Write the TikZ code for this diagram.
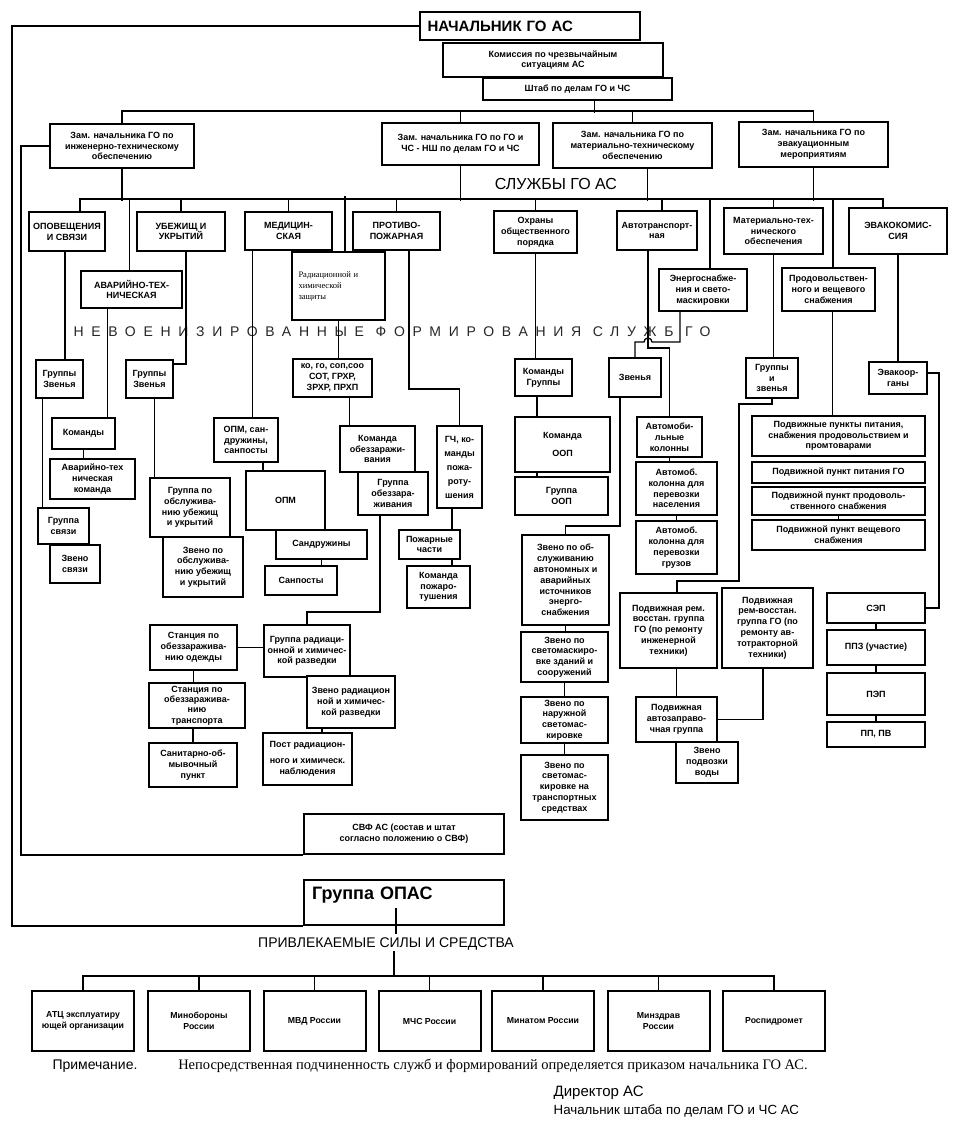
\documentclass[tikz,border=0pt]{standalone}
\usepackage{fontspec}
\usepackage{graphicx}
\setmainfont{Liberation Sans}
\newfontfamily\timesfont{Liberation Serif}

\begin{document}
\begin{tikzpicture}[x = 1pt, y = -1pt, line width = 1.3pt,
    box/.style = {rectangle, draw, line width = 2pt, fill = white, align = center, inner sep = 1pt,
                  font = \fontsize{9}{10.8}\selectfont\bfseries},
    org/.style = {box, minimum width = 102pt, minimum height = 60pt, font = \fontsize{8.7}{11}\selectfont\bfseries},
    heading/.style = {inner sep = 0pt, font = \fontsize{14}{16}\selectfont}]
  \useasboundingbox (0, 0) rectangle (957, 1128);
  \fill [white] (0, 0) rectangle (957, 1128);

  % top of the chart
  \node [box, minimum width = 220pt, minimum height = 28pt, text width = 205pt, align = left,
         font = \fontsize{15}{17}\selectfont\bfseries] (nach) at (530, 26) {НАЧАЛЬНИК ГО  АС};
  \node [box, minimum width = 220pt, minimum height = 34pt] (kom) at (553, 60) {Комиссия по чрезвычайным\\ситуациям АС};
  \node [box, minimum width = 189pt, minimum height = 22pt] (shtab) at (577.5, 89) {Штаб по делам ГО и ЧС};
  \node [box, minimum width = 144pt, minimum height = 44pt] (zam1) at (122, 146) {Зам. начальника ГО по\\инженерно-техническому\\обеспечению};
  \node [box, minimum width = 157pt, minimum height = 42pt] (zam2) at (460.5, 144) {Зам. начальника ГО по ГО и\\ЧС - НШ по делам ГО и ЧС};
  \node [box, minimum width = 159pt, minimum height = 45pt] (zam3) at (632.5, 145.5) {Зам. начальника ГО по\\материально-техническому\\обеспечению};
  \node [box, minimum width = 149pt, minimum height = 45pt] (zam4) at (813.5, 144.5) {Зам. начальника ГО по\\эвакуационным\\мероприятиям};
  \node [heading, font = \fontsize{16}{18}\selectfont] (sluzhby) at (556, 184) {СЛУЖБЫ ГО АС};

  % services
  \node [box, minimum width = 76pt, minimum height = 39pt] (opov) at (67, 231.5) {ОПОВЕЩЕНИЯ\\И СВЯЗИ};
  \node [box, minimum width = 88pt, minimum height = 39pt] (ubez) at (181, 231.5) {УБЕЖИЩ И\\УКРЫТИЙ};
  \node [box, minimum width = 87pt, minimum height = 38pt] (med) at (288.5, 231) {МЕДИЦИН-\\СКАЯ};
  \node [box, minimum width = 87pt, minimum height = 38pt] (prot) at (396.5, 231) {ПРОТИВО-\\ПОЖАРНАЯ};
  \node [box, minimum width = 83pt, minimum height = 42pt] (ohr) at (535.5, 232) {Охраны\\общественного\\порядка};
  \node [box, minimum width = 80pt, minimum height = 39pt] (avto) at (657, 230.5) {Автотранспорт-\\ная};
  \node [box, minimum width = 99pt, minimum height = 46pt] (mtech) at (773.5, 231) {Материально-тех-\\нического\\обеспечения};
  \node [box, minimum width = 98pt, minimum height = 46pt] (evak) at (898, 231) {ЭВАКОКОМИС-\\СИЯ};
  \node [box, minimum width = 93pt, minimum height = 68pt, line width = 2.5pt, text width = 80pt, align = left,
         font = \fontsize{8.5}{11}\timesfont] (rhz) at (338.5, 286) {Радиационной и\\химической\\защиты};
  \node [box, minimum width = 101pt, minimum height = 37pt] (avar) at (131.5, 289.5) {АВАРИЙНО-ТЕХ-\\НИЧЕСКАЯ};
  \node [box, minimum width = 88pt, minimum height = 42pt] (energ) at (703, 290) {Энергоснабже-\\ния и свето-\\маскировки};
  \node [box, minimum width = 93pt, minimum height = 43pt] (prod) at (828.5, 289.5) {Продовольствен-\\ного и вещевого\\снабжения};
  \node [heading, text = black!85, font = \fontsize{14}{16}\selectfont\addfontfeature{LetterSpace = 55}] (nevoen) at (392, 332)
        {НЕВОЕНИЗИРОВАННЫЕ  ФОРМИРОВАНИЯ  СЛУЖБ  ГО};

  % formations
  \node [box, minimum width = 47pt, minimum height = 38pt] (gz1) at (59.5, 379) {Группы\\Звенья};
  \node [box, minimum width = 47pt, minimum height = 38pt] (gz2) at (149.5, 379) {Группы\\Звенья};
  \node [box, minimum width = 79pt, minimum height = 38pt] (kogo) at (332.5, 378) {ко, го, соп,соо\\СОТ, ГРХР,\\ЗРХР, ПРХП};
  \node [box, minimum width = 57pt, minimum height = 37pt] (komgr) at (543.5, 377.5) {Команды\\Группы};
  \node [box, minimum width = 52pt, minimum height = 39pt] (zven) at (635, 377.5) {Звенья};
  \node [box, minimum width = 52pt, minimum height = 40pt] (giz) at (772, 378) {Группы\\и\\звенья};
  \node [box, minimum width = 58pt, minimum height = 32pt] (evorg) at (898, 378) {Эвакоор-\\ганы};

  \node [box, minimum width = 63pt, minimum height = 31pt] (komandy) at (83.5, 433.5) {Команды};
  \node [box, minimum width = 85pt, minimum height = 40pt] (avkom) at (92.5, 479) {Аварийно-тех\\ническая\\команда};
  \node [box, minimum width = 51pt, minimum height = 36pt] (grsv) at (63.5, 526) {Группа\\связи};
  \node [box, minimum width = 50pt, minimum height = 38pt] (zvsv) at (75, 564) {Звено\\связи};
  \node [box, minimum width = 80pt, minimum height = 59pt] (grobs) at (190, 507.5) {Группа по\\обслужива-\\нию убежищ\\и укрытий};
  \node [box, minimum width = 80pt, minimum height = 60pt] (zvobs) at (203, 567) {Звено по\\обслужива-\\нию убежищ\\и укрытий};
  \node [box, minimum width = 64pt, minimum height = 44pt] (opms) at (246, 440) {ОПМ, сан-\\дружины,\\санпосты};
  \node [box, minimum width = 79pt, minimum height = 59pt] (opm) at (285.5, 500.5) {ОПМ};
  \node [box, minimum width = 91pt, minimum height = 29pt] (sandr) at (321.5, 544.5) {Сандружины};
  \node [box, minimum width = 72pt, minimum height = 29pt] (sanp) at (301, 580.5) {Санпосты};
  \node [box, minimum width = 75pt, minimum height = 46pt] (komobz) at (377.5, 449) {Команда\\обеззаражи-\\вания};
  \node [box, minimum width = 70pt, minimum height = 43pt] (grobz) at (393, 493.5) {Группа\\обеззара-\\живания};
  \node [box, minimum width = 45pt, minimum height = 82pt, font = \fontsize{9}{14}\selectfont\bfseries] (gch) at (459.5, 467)
        {ГЧ, ко-\\манды\\пожа-\\роту-\\шения};
  \node [box, minimum width = 61pt, minimum height = 29pt] (pozh) at (429.5, 544.5) {Пожарные\\части};
  \node [box, minimum width = 63pt, minimum height = 42pt] (kompt) at (438.5, 587) {Команда\\пожаро-\\тушения};

  \node [box, minimum width = 86pt, minimum height = 52pt] (grrhr) at (307, 651) {Группа радиаци-\\онной и химичес-\\кой разведки};
  \node [box, minimum width = 87pt, minimum height = 45pt] (stod) at (193.5, 647.5) {Станция по\\обеззаражива-\\нию одежды};
  \node [box, minimum width = 96pt, minimum height = 45pt, font = \fontsize{9}{10.3}\selectfont\bfseries] (sttr) at (197, 705.5)
        {Станция по\\обеззаражива-\\нию\\транспорта};
  \node [box, minimum width = 88pt, minimum height = 44pt] (sanob) at (193, 765) {Санитарно-об-\\мывочный\\пункт};
  \node [box, minimum width = 88pt, minimum height = 52pt] (zvrhr) at (351, 702) {Звено радиацион\\ной и химичес-\\кой разведки};
  \node [box, minimum width = 89pt, minimum height = 52pt] (post) at (307.5, 759) {Пост радиацион-\\[5pt]ного и химическ.\\наблюдения};
  \node [box, minimum width = 200pt, minimum height = 40pt] (svf) at (404, 834) {СВФ АС (состав и штат\\согласно положению о СВФ)};

  \node [box, minimum width = 95pt, minimum height = 55pt] (komoop) at (562.5, 444.5) {Команда\\[8pt]ООП};
  \node [box, minimum width = 93pt, minimum height = 38pt] (groop) at (561.5, 496) {Группа\\ООП};
  \node [box, minimum width = 87pt, minimum height = 90pt] (zvavt) at (565.5, 580) {Звено по об-\\служиванию\\автономных и\\аварийных\\источников\\энерго-\\снабжения};
  \node [box, minimum width = 87pt, minimum height = 50pt] (zvzd) at (564.5, 657) {Звено по\\светомаскиро-\\вке зданий и\\сооружений};
  \node [box, minimum width = 87pt, minimum height = 46pt] (zvnar) at (564.5, 720) {Звено по\\наружной\\светомас-\\кировке};
  \node [box, minimum width = 87pt, minimum height = 65pt] (zvtr) at (564.5, 787.5) {Звено по\\светомас-\\кировке на\\транспортных\\средствах};
  \node [box, minimum width = 65pt, minimum height = 40pt] (avkol) at (669.5, 437) {Автомоби-\\льные\\колонны};
  \node [box, minimum width = 81pt, minimum height = 53pt] (kolnas) at (676.5, 488.5) {Автомоб.\\колонна для\\перевозки\\населения};
  \node [box, minimum width = 81pt, minimum height = 53pt] (kolgr) at (676.5, 547.5) {Автомоб.\\колонна для\\перевозки\\грузов};
  \node [box, minimum width = 97pt, minimum height = 75pt] (remin) at (668.5, 630.5) {Подвижная рем.\\восстан. группа\\ГО (по ремонту\\инженерной\\техники)};
  \node [box, minimum width = 91pt, minimum height = 80pt] (remav) at (767.5, 628) {Подвижная\\рем-восстан.\\группа ГО (по\\ремонту ав-\\тотракторной\\техники)};
  \node [box, minimum width = 81pt, minimum height = 45pt] (azap) at (676.5, 719.5) {Подвижная\\автозаправо-\\чная группа};
  \node [box, minimum width = 62pt, minimum height = 41pt] (zvvod) at (707, 762.5) {Звено\\подвозки\\воды};
  \node [box, minimum width = 173pt, minimum height = 40pt] (ppit) at (838.5, 436) {Подвижные пункты питания,\\снабжения продовольствием и\\промтоварами};
  \node [box, minimum width = 173pt, minimum height = 21pt] (pgo) at (838.5, 472.5) {Подвижной пункт питания ГО};
  \node [box, minimum width = 173pt, minimum height = 28pt] (pprod) at (838.5, 501) {Подвижной пункт продоволь-\\ственного снабжения};
  \node [box, minimum width = 173pt, minimum height = 30pt] (pvesh) at (838.5, 535) {Подвижной пункт вещевого\\снабжения};
  \node [box, minimum width = 98pt, minimum height = 30pt] (sep) at (876, 608) {СЭП};
  \node [box, minimum width = 98pt, minimum height = 35pt] (ppz) at (876, 647.5) {ППЗ (участие)};
  \node [box, minimum width = 98pt, minimum height = 42pt] (pep) at (876, 694) {ПЭП};
  \node [box, minimum width = 98pt, minimum height = 25pt] (ppv) at (876, 734.5) {ПП, ПВ};

  % attached forces
  \node [box, minimum width = 200pt, minimum height = 45pt, text width = 184pt, align = left, text depth = 18pt,
         font = \fontsize{18}{20}\selectfont\bfseries] (opas) at (404, 902.5) {Группа ОПАС};
  \node [heading] (privl) at (386, 944) {ПРИВЛЕКАЕМЫЕ СИЛЫ И СРЕДСТВА};
  \node [org] (atc) at (83, 1021) {АТЦ эксплуатиру\\ющей организации};
  \node [org] (minob) at (199, 1021) {Минобороны\\России};
  \node [org] (mvd) at (314.5, 1021) {МВД России};
  \node [org] (mchs) at (429.5, 1021) {МЧС России};
  \node [org] (minat) at (543, 1021) {Минатом России};
  \node [org] (minz) at (658.5, 1021) {Минздрав\\России};
  \node [org] (rosg) at (774, 1021) {Роспидромет};
  \node [heading] (prim) at (95, 1066) {Примечание.};
  \node [heading, font = \fontsize{14.5}{16}\timesfont] (nepos) at (493, 1066)
        {Непосредственная подчиненность служб и формирований  определяется приказом начальника ГО АС.};
  \node [heading, anchor = west, font = \fontsize{15}{17}\selectfont] (dir) at (553, 1093) {Директор АС};
  \node [heading, anchor = west, font = \fontsize{13.3}{15}\selectfont] (nsh) at (553, 1111) {Начальник штаба по делам ГО и ЧС АС};

  % connectors
  \draw (nach.west) -- ++(-407, 0) |- (opas.south west);
  \draw (zam1.west) -- ++(-28, 0) |- (svf.south west);
  \draw ([xshift = 17pt]shtab.south) -- ++(0, 12);
  \draw (zam1.north) -- ++(0, -12) -| (zam4.north);
  \draw (zam2.north) -- ++(0, -11);
  \draw (zam3.north) -- ++(0, -11);
  \draw ([xshift = 13pt]opov.north) -- ++(0, -12) -| ([xshift = -15pt]evak.north);
  \draw (zam1.south) -- ++(0, 32);
  \draw (zam2.south) -- ++(0, 35);
  \draw ([xshift = 15pt]zam3.south) -- ++(0, 32);
  \draw (zam4.south) -- ++(0, 33);
  \draw (ubez.north) -- ++(0, -12);
  \draw (med.north) -- ++(0, -12);
  \draw (prot.north) -- ++(0, -12);
  \draw (ohr.north) -- ++(0, -11);
  \draw ([xshift = 5pt]avto.north) -- ++(0, -11);
  \draw (mtech.north) -- ++(0, -8);
  \draw ([xshift = -2pt]avar.north) -- ++(0, -71);
  \draw [line width = 2.4pt] ([xshift = 6.5pt]rhz.north) -- ++(0, -55);
  \draw ([xshift = 7pt]energ.north) -- ++(0, -69);
  \draw ([xshift = 4.5pt]prod.north) -- ++(0, -68);

  \draw ([xshift = -2pt]opov.south) -- ++(0, 109);
  \draw ([xshift = 5pt]ubez.south) |- ([yshift = -5pt]gz2.north east);
  \draw ([xshift = -24pt]avar.south) -- ++(0, 110);
  \draw (komandy.south) -- ++(0, 10);
  \draw ([xshift = -17pt]gz1.south) -- ++(0, 110);
  \draw ([xshift = 5pt]gz2.south) -- ++(0, 80);
  \draw ([xshift = -36pt]med.south) -- ++(0, 168);
  \draw ([xshift = 17pt]opms.south) -- ++(0, 9);
  \draw (sandr.south) -- ++(0, 7);
  \draw (rhz.south) -- ++(0, 39);
  \draw ([xshift = 17pt]kogo.south) -- ++(0, 29);
  \draw ([xshift = -13pt]grobz.south) -- ++(0, 96) -| (grrhr.north);
  \draw ([xshift = 12.5pt]prot.south) -- ++(0, 138) -| (gch.north);
  \draw ([xshift = -7.5pt]gch.south) -- ++(0, 22);
  \draw ([xshift = 22.5pt]pozh.south) -- ++(0, 7);
  \draw (stod.east) -- ++(27, 0);
  \draw (stod.south) -- ++(0, 13);
  \draw ([xshift = -4pt]sttr.south) -- ++(0, 15);
  \draw ([xshift = -29pt]zvrhr.south) -- ++(0, 5);

  \draw (ohr.south) -- ++(0, 106);
  \draw ([xshift = -6.5pt]komgr.south) -- ++(0, 21);
  \draw ([xshift = -25.5pt]komoop.south) -- ++(0, 5);
  \draw ([xshift = -15pt]zven.south) -- ++(0, 128) -| (zvavt.north);
  \draw (zvavt.south) -- ++(0, 7);
  \draw (zvzd.south) -- ++(0, 15);
  \draw (zvnar.south) -- ++(0, 12);
  \draw ([xshift = -9pt]avto.south) -- ++(0, 97) -| (avkol.north);
  \draw ([xshift = -23pt]energ.south) -- ++(0, 30) -- ++(-28, 0)
        arc [start angle = 0, end angle = 180, radius = 4pt] -| (zven.north);
  \draw (avkol.south) -- ++(0, 5);
  \draw (kolnas.south) -- ++(0, 6);
  \draw (mtech.south) -- ++(0, 104);
  \draw (giz.south) -- ++(0, 5) -- ++(-33, 0) -- ++(0, 177) -| ([xshift = 8.5pt]remin.north);
  \draw ([xshift = 4pt]prod.south) -- ++(0, 105);
  \draw (pprod.south) -- ++(0, 5);
  \draw (evak.south) -- ++(0, 108);
  \draw ([yshift = 5pt]evorg.east) -- ++(11, 0) |- (sep.east);
  \draw (sep.south) -- ++(0, 7);
  \draw (ppz.south) -- ++(0, 8);
  \draw (pep.south) -- ++(0, 7);
  \draw ([xshift = 8pt]remin.south) -- ++(0, 29);
  \draw ([xshift = -4.5pt]remav.south) |- (azap.east);

  \draw ([xshift = -8pt, yshift = 18pt]opas.south) -- ++(0, 26);
  \draw ([xshift = 8pt]privl.south) -- ++(0, 26);
  \draw (atc.north) -- ++(0, -14) -| (rosg.north);
  \draw (minob.north) -- ++(0, -14);
  \draw (mvd.north) -- ++(0, -14);
  \draw (mchs.north) -- ++(0, -14);
  \draw (minat.north) -- ++(0, -14);
  \draw (minz.north) -- ++(0, -14);
\end{tikzpicture}
\end{document}
